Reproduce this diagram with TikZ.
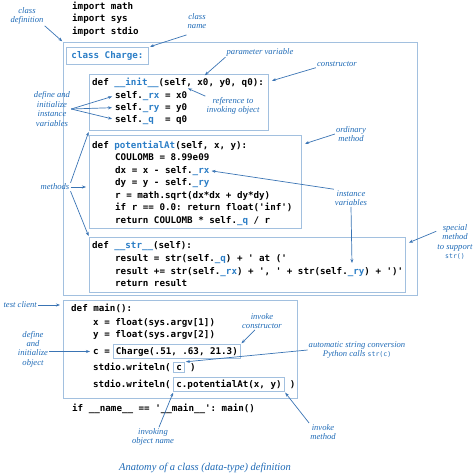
\documentclass[tikz,border=0pt]{standalone}
\usepackage{fontspec}
\setmonofont{DejaVu Sans Mono}
\newfontfamily\notefont{Liberation Serif}
\usetikzlibrary{positioning,arrows.meta}

\definecolor{labelblue}{HTML}{1E6AB6}
\definecolor{codeblue}{HTML}{2A7DC6}
\definecolor{frameblue}{HTML}{A2C0DF}
\definecolor{arrowblue}{HTML}{3A74B4}

\newcommand{\hl}[1]{\textcolor{codeblue}{#1}}

\tikzset{
  code/.style={font=\ttfamily\bfseries\fontsize{9.2}{12}\selectfont, anchor=base west, inner sep=0pt},
  frame/.style={draw=frameblue, line width=1pt, anchor=north west, inner sep=0pt},
  tag/.style={draw=frameblue, line width=0.9pt, font=\ttfamily\bfseries\fontsize{9.2}{12}\selectfont, anchor=base west, inner xsep=2.5pt, inner ysep=2.5pt},
  note/.style={font=\notefont\itshape\fontsize{8.6}{9.4}\selectfont, text=labelblue, align=center, inner sep=1pt},
  pointer/.style={draw=arrowblue, line width=0.7pt, -{Stealth[length=4pt,width=3pt]}, shorten >=1pt},
}

\begin{document}
\begin{tikzpicture}[x=1pt, y=-1pt]
  \useasboundingbox (0,0) rectangle (474,475);

  % imports
  \node[code] (imp1) at (72,9) {import math};
  \node[code] (imp2) at (72,21) {import sys};
  \node[code] (imp3) at (72,34) {import stdio};

  % class body
  \node[frame, minimum width=354pt, minimum height=253pt] (classbox) at (63,42) {};
  \node[frame, minimum width=82pt, minimum height=17pt, font=\ttfamily\bfseries\fontsize{9.2}{12}\selectfont, text=codeblue] (namebox) at (66,47) {class Charge:};

  % constructor
  \node[frame, minimum width=179pt, minimum height=56pt] (initbox) at (89,74) {};
  \node[code] (initdef) at (92,85) {def \hl{\_\_init\_\_}(self, x0, y0, q0):};
  \node[code] (initrx) at (115,98) {self.\hl{\_rx} = x0};
  \node[code] (initry) at (115,110) {self.\hl{\_ry} = y0};
  \node[code] (initq) at (115,122) {self.\hl{\_q}~ = q0};

  % ordinary method
  \node[frame, minimum width=212pt, minimum height=93pt] (potbox) at (89,135) {};
  \node[code] (potdef) at (92,148) {def \hl{potentialAt}(self, x, y):};
  \node[code] (potc) at (115,160.5) {COULOMB = 8.99e09};
  \node[code] (potdx) at (115,173) {dx = x - self.\hl{\_rx}};
  \node[code] (potdy) at (115,185.5) {dy = y - self.\hl{\_ry}};
  \node[code] (potr) at (115,198) {r = math.sqrt(dx*dx + dy*dy)};
  \node[code] (potif) at (115,210.5) {if r == 0.0: return float('inf')};
  \node[code] (potret) at (115,223) {return COULOMB * self.\hl{\_q} / r};

  % special method
  \node[frame, minimum width=316pt, minimum height=55pt] (strbox) at (89,237) {};
  \node[code] (strdef) at (92,248) {def \hl{\_\_str\_\_}(self):};
  \node[code] (str1) at (115,261) {result = str(self.\hl{\_q}) + ' at ('};
  \node[code] (str2) at (115,274) {result += str(self.\hl{\_rx}) + ', ' + str(self.\hl{\_ry}) + ')'};
  \node[code] (str3) at (115,286) {return result};

  % test client
  \node[frame, minimum width=234pt, minimum height=98pt] (mainbox) at (63,300) {};
  \node[code] (maindef) at (71,311) {def main():};
  \node[code] (mainx) at (93,325) {x = float(sys.argv[1])};
  \node[code] (mainy) at (93,337) {y = float(sys.argv[2])};
  \node[code] (cline) at (93,354) {c =};
  \node[tag] (chargebox) at (113,354) {Charge(.51, .63, 21.3)};
  \node[code] (wr1) at (93,370) {stdio.writeln(};
  \node[tag, xshift=2.5pt] (cbox) at (wr1.base east) {c};
  \node[code, xshift=5pt] (wr1end) at (cbox.base east) {)};
  \node[code] (wr2) at (93,387) {stdio.writeln(};
  \node[tag, xshift=2.5pt] (callbox) at (wr2.base east) {c.potentialAt(x, y)};
  \node[code, xshift=5pt] (wr2end) at (callbox.base east) {)};
  \node[code] (ifmain) at (72,411) {if \_\_name\_\_ == '\_\_main\_\_': main()};

  % labels
  \node[note] (classdefnote) at (27,16) {class\\definition};
  \node[note] (classnamenote) at (197,21) {class\\name};
  \node[note] (paramnote) at (260,52) {parameter variable};
  \node[note] (ctornote) at (337,64) {constructor};
  \node[note] (refnote) at (233,106) {reference to\\invoking object};
  \node[note] (definitnote) at (52,109) {define and\\initialize\\instance\\variables};
  \node[note] (methodsnote) at (55,187) {methods};
  \node[note] (ordinarynote) at (351,134) {ordinary\\method};
  \node[note] (instnote) at (351,198) {instance\\variables};
  \node[note] (specialnote) at (455,242) {special\\method\\to support\\{\upshape\ttfamily\fontsize{6.5}{8}\selectfont str()}};
  \node[note, anchor=east] (testnote) at (38,305) {test client};
  \node[note] (defobjnote) at (33,349) {define\\and\\initialize\\object};
  \node[note] (invokecnote) at (262,321) {invoke\\constructor};
  \node[note] (autonote) at (357,350) {automatic string conversion\\Python calls {\upshape\ttfamily\fontsize{6.5}{8}\selectfont str(c)}};
  \node[note] (invobjnote) at (153,437) {invoking\\object name};
  \node[note] (invmnote) at (323,432) {invoke\\method};
  \node[note, font=\notefont\itshape\fontsize{10.5}{12}\selectfont] (caption) at (205,468) {Anatomy of a class (data-type) definition};

  % targets inside code lines
  \coordinate (xzero) at (204,76);
  \coordinate (selfparam) at (187,88);
  \coordinate (ryref) at (352,264);

  % connectors
  \draw[pointer] (classdefnote.south east) -- (classbox.north west);
  \draw[pointer] ([yshift=-5pt]classnamenote.south west) -- (namebox.north east);
  \draw[pointer] (paramnote.south west) -- (xzero);
  \draw[pointer] (ctornote.south west) -- ([yshift=-7pt,xshift=2pt]initbox.north east);
  \draw[pointer] (refnote.north west) -- (selfparam);
  \foreach \tgt in {initrx, initry, initq}
    \draw[pointer, shorten >=3pt] (definitnote.east) -- (\tgt.west);
  \draw[pointer] (methodsnote.north east) -- (initbox.south west);
  \draw[pointer, shorten >=3pt] (methodsnote.east) -- (methodsnote.east -| potbox.west);
  \draw[pointer] (methodsnote.south east) -- (strbox.north west);
  \draw[pointer] (ordinarynote.west) -- ([yshift=-9pt,xshift=2pt]potbox.north east);
  \draw[pointer, shorten >=2pt] (instnote.north west) -- (potdx.east);
  \draw[pointer] (instnote.south) -- (ryref);
  \draw[pointer] ([yshift=-8pt]specialnote.north west) -- ([yshift=-6pt,xshift=2pt]strbox.north east);
  \draw[pointer, shorten >=3pt] (testnote.east) -- (testnote.east -| mainbox.west);
  \draw[pointer, shorten >=3pt] (defobjnote.east |- cline.west) -- (cline.west);
  \draw[pointer] ([xshift=-7pt]invokecnote.south) -- (chargebox.north east);
  \draw[pointer] (autonote.west) -- (cbox.north east);
  \draw[pointer] ([xshift=6pt]invobjnote.north) -- (callbox.south west);
  \draw[pointer] (invmnote.north west) -- (callbox.south east);
\end{tikzpicture}
\end{document}
